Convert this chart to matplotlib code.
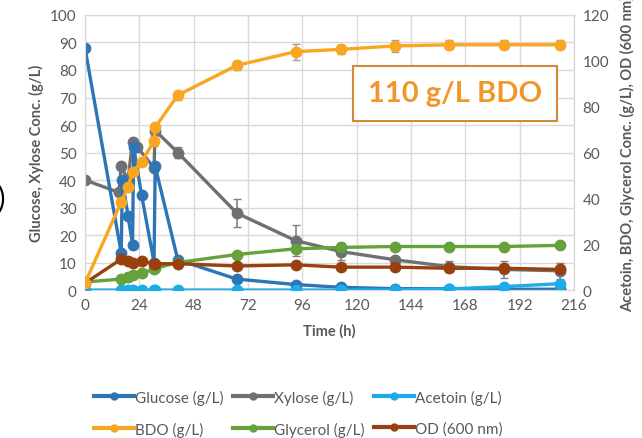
import numpy as np
import matplotlib.pyplot as plt
from matplotlib.lines import Line2D

plt.rcParams['font.family'] = ['Lato', 'DejaVu Sans']

# glucose has extra points around the feeds
t_glc = [0, 16, 16.5, 19, 21, 21.5, 25, 30.5, 31, 41, 67, 93, 113, 137, 161, 185, 210]
glucose = [88, 13.5, 40, 27, 16.5, 52, 34.5, 10, 45, 11, 4, 2, 1, 0.5, 0.5, 0.3, 0.3]

t_xyl = [0, 15, 16, 19, 21, 23, 30.5, 31, 41, 67, 93, 113, 137, 161, 185, 210]
xylose = [40, 35.5, 45, 40, 54, 52, 44.5, 58, 50, 28, 18, 14, 11, 8.5, 7.5, 7]
xylose_err = [0, 0, 0, 0, 0, 0, 0, 0, 2, 5, 5.5, 3, 0, 2, 3, 3]

t = [0, 16, 19, 21, 25, 30.5, 31, 41, 67, 93, 113, 137, 161, 185, 210]
acetoin = [0, 0, 0, 0, 0, 0, 0, 0, 0, 0, 0, 0, 0.5, 1.5, 2.8]
bdo = [3, 38.5, 45, 51.5, 56, 65, 71, 85, 98, 104, 105, 106.5, 107, 107, 107]
bdo_err = [0, 0, 0, 0, 0, 2, 2, 2, 2, 3.5, 2, 2.5, 2, 2, 2]
glycerol = [3.5, 4.8, 5.5, 6.5, 7.5, 9, 9.5, 12, 15.5, 18, 18.6, 19, 19, 19, 19.5]
od = [3, 13.5, 12.5, 12, 12.5, 11.5, 11.5, 11.5, 10.5, 11, 10, 10, 9.5, 9.5, 9]

labels = ['Glucose (g/L)', 'Xylose (g/L)', 'Acetoin (g/L)',
          'BDO (g/L)', 'Glycerol (g/L)', 'OD (600 nm)']
colors = ['#2E75B6', '#6F7073', '#1CACE8', '#F9A621', '#66A23A', '#9A3F0E']

gray = '#595959'
fig = plt.figure(figsize=(6.42, 4.39), dpi=100)
ax = fig.add_axes([0.1324, 0.337, 0.7616, 0.6266])
ax2 = ax.twinx()

lw, ms = 2.4, 7.5
ax.plot(t_glc, glucose, '-o', color=colors[0], lw=lw, ms=ms, zorder=3)
ax.errorbar(t_xyl, xylose, yerr=xylose_err, fmt='-o', color=colors[1], lw=lw, ms=ms,
            ecolor='#808080', elinewidth=1.2, capsize=3, zorder=2)
ax2.plot(t, acetoin, '-o', color=colors[2], lw=lw, ms=ms, zorder=3)
ax2.plot(t, glycerol, '-o', color=colors[4], lw=lw, ms=ms, zorder=3)
ax2.plot(t, od, '-o', color=colors[5], lw=lw, ms=ms, zorder=4)
ax2.errorbar(t, bdo, yerr=bdo_err, fmt='-o', color=colors[3], lw=lw, ms=ms,
             ecolor='#A0A0A0', elinewidth=1.2, capsize=3, zorder=5)

ax.set_xlim(0, 216)
ax.set_ylim(0, 100)
ax2.set_ylim(0, 120)
ax.set_xticks(np.arange(0, 217, 24))
ax.set_yticks(np.arange(0, 101, 10))
ax2.set_yticks(np.arange(0, 121, 20))
ax.grid(True, color='#D9D9D9', lw=1)
ax.set_axisbelow(True)
for a in (ax, ax2):
    for s in a.spines.values():
        s.set_color('#D9D9D9')
    a.tick_params(length=0, labelsize=11, labelcolor=gray, pad=6)

ax.set_xlabel('Time (h)', fontsize=10.5, fontweight='bold', color=gray, labelpad=8)
ax.set_ylabel('Glucose, Xylose Conc. (g/L)', fontsize=10.5, fontweight='bold',
              color=gray, labelpad=4)
ax2.set_ylabel('Acetoin, BDO, Glycerol Conc. (g/L), OD (600 nm)', fontsize=10.5,
               fontweight='bold', color=gray, labelpad=8)

ax2.text(0.757, 0.716, '110 g/L BDO', transform=ax.transAxes, ha='center', va='center',
         fontsize=21, fontweight='bold', color='#F0962A',
         bbox=dict(boxstyle='square,pad=0.5', fc='white', ec='#D4883A', lw=1.5))

# legend filled row by row: reorder for matplotlib's column-first layout
order = [0, 3, 1, 4, 2, 5]
handles = [Line2D([0], [0], color=colors[i], lw=3, marker='o', ms=5) for i in order]
fig.legend(handles, [labels[i] for i in order], loc='lower left',
           bbox_to_anchor=(0.125, -0.028), ncol=3,
           frameon=False, fontsize=11, handlelength=2.6, handletextpad=0.1,
           columnspacing=0.6, labelspacing=1.1, labelcolor=gray)

fig.text(-0.005, 0.545, ')', fontsize=20, color='black', va='center')

fig.savefig('out.png', dpi=100)
